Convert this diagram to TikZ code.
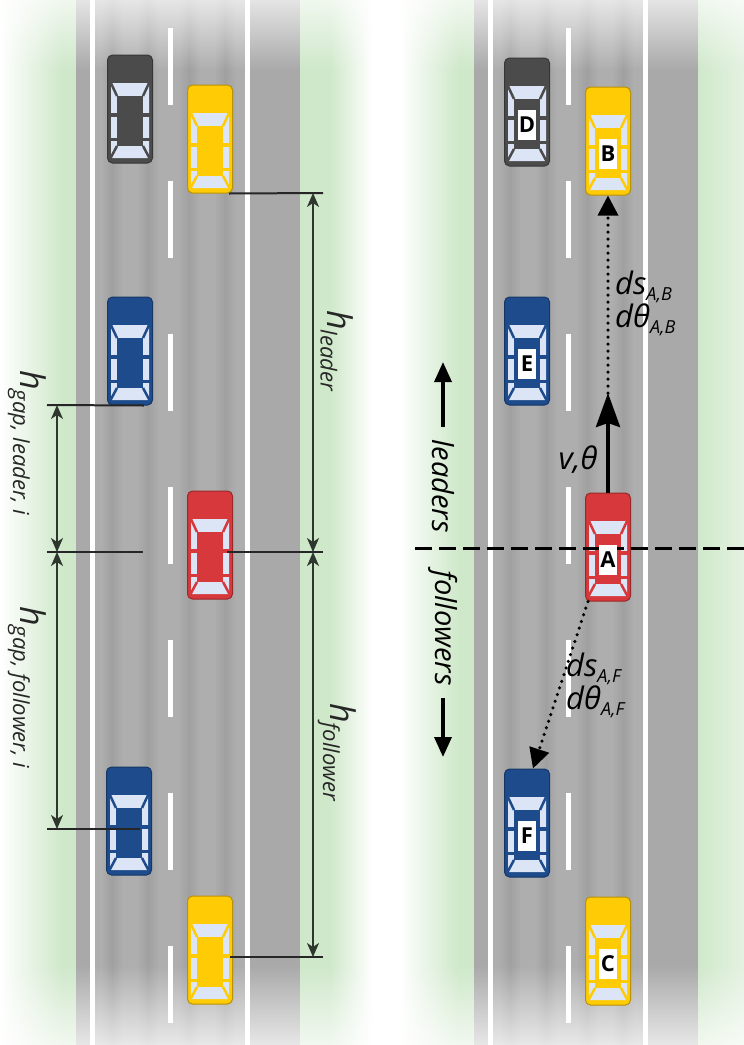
\documentclass[tikz,border=0pt]{standalone}
\usepackage{fontspec}
\setmainfont{Open Sans}
\usetikzlibrary{arrows.meta,fadings}

\definecolor{verge}{HTML}{CFE8CA}
\definecolor{shoulder}{HTML}{A9A9A9}
\definecolor{lane}{HTML}{AEAEAE}
\definecolor{track}{HTML}{A0A0A0}
\definecolor{glass}{HTML}{DCE5F5}
\definecolor{carred}{HTML}{D6383B}
\definecolor{carblue}{HTML}{1E4B8C}
\definecolor{caryellow}{HTML}{FFCB05}
\definecolor{cargray}{HTML}{4B4B4B}
\definecolor{dimgray}{HTML}{2E362E}

% two-lane road with shoulder, shifted by #1
\newcommand{\road}[1]{%
  \fill[shoulder] (#1+76,-10) rectangle (#1+300,1060);
  \fill[lane] (#1+95,-10) rectangle (#1+245,1060);
  \foreach \t in {101,137,178,214}
    \shade[left color=lane, right color=lane, middle color=track] (#1+\t,-10) rectangle (#1+\t+22,1060);
  \fill[white] (#1+90,-10) rectangle (#1+95,1060);
  \fill[white] (#1+245,-10) rectangle (#1+250,1060);
  \foreach \k in {0,...,6}
    \fill[white] (#1+167.5,28+153*\k) rectangle (#1+172.5,105+153*\k);
}

% car seen from above: name, x, y, body colour
\newcommand{\car}[4]{%
  \node[carbody, fill=#4, draw=#4!72!black] (#1) at (#2,#3) {};
  \begin{scope}[shift={(#1.center)}]
    \fill[glass, rounded corners=1pt] (-19,-26) rectangle (19,49);
    \fill[#4] (-13,-13) rectangle (13,37);
    \draw[#4, line width=2.5pt] (-13,-13) -- (-20,-28) (13,-13) -- (20,-28)
      (-13,37) -- (-20,50) (13,37) -- (20,50);
    \draw[#4, line width=4pt] (-20,6) -- (-13,6) (13,6) -- (20,6);
    \draw[#4, line width=3pt] (-20,30) -- (-13,30) (13,30) -- (20,30);
  \end{scope}}

\newcommand{\lowsub}[1]{\raisebox{-6pt}{\fontsize{18}{18}\selectfont #1}}
\newcommand{\hdist}[1]{{\fontsize{34}{34}\selectfont h}\raisebox{-7pt}{\fontsize{22}{22}\selectfont #1}}

\begin{document}
\begin{tikzpicture}[x=1pt, y=-1pt,
    carbody/.style={rounded corners=5pt, minimum width=45pt, minimum height=108pt, inner sep=0pt, line width=1pt},
    tag/.style={fill=white, minimum width=18pt, minimum height=30pt, inner sep=0pt, font=\fontsize{22}{22}\selectfont\bfseries},
    extline/.style={line width=2pt, black!85},
    dimline/.style={line width=1.7pt, dimgray, {Stealth[length=14pt,width=12pt,inset=4pt]}-{Stealth[length=14pt,width=12pt,inset=4pt]}},
    hlabel/.style={rotate=-90, anchor=west, inner sep=0pt, font=\itshape, black!85},
    dirlabel/.style={rotate=-90, inner sep=0pt, font=\fontsize{29}{29}\selectfont\itshape},
    bigarrow/.style={line width=3.5pt, -{Triangle[length=20pt,width=17pt]}},
    dotarrow/.style={line width=3.5pt, dash pattern=on 0pt off 7pt, line cap=round, -{Triangle[length=20pt,width=20pt]}},
    divider/.style={line width=3pt, dash pattern=on 17pt off 7pt},
    quantity/.style={font=\fontsize{31}{31}\selectfont\itshape, align=left, inner sep=0pt}]
  \useasboundingbox (0,0) rectangle (744,1045);
  \fill[white] (0,0) rectangle (744,1045);

  % grass verges
  \shade[left color=white, right color=verge] (0,-10) rectangle (62,1060);
  \fill[verge] (62,-10) rectangle (77,1060);
  \fill[verge] (299,-10) rectangle (330,1060);
  \shade[left color=verge, right color=white] (330,-10) rectangle (372,1060);
  \shade[left color=white, right color=verge] (400,-10) rectangle (458,1060);
  \fill[verge] (458,-10) rectangle (475,1060);
  \shade[left color=verge, right color=verge!55!white] (697,-10) rectangle (745,1060);

  % both roads
  \road{0}
  \road{398}

  % fade out at top and bottom
  \fill[white, path fading=south] (-5,-30) rectangle (750,70);
  \fill[white, path fading=north] (-5,965) rectangle (750,1075);

  % left road: gaps
  \car{G1}{130}{109}{cargray}
  \car{Y1}{210}{139}{caryellow}
  \car{B1}{130}{351}{carblue}
  \car{R1}{210}{545}{carred}
  \car{B2}{129}{821}{carblue}
  \car{Y2}{210}{950}{caryellow}

  % right road: neighbours of A
  \car{D}{527}{112}{cargray}
  \car{B}{608}{141}{caryellow}
  \car{E}{527}{351}{carblue}
  \car{A}{608}{547}{carred}
  \car{F}{527}{823}{carblue}
  \car{C}{608}{951}{caryellow}

  % dimension lines
  \coordinate (hl top) at (313,193);
  \coordinate (hl mid) at (313,552);
  \coordinate (hf bot) at (313,957);
  \coordinate (gl top) at (57,405);
  \coordinate (gl mid) at (57,552);
  \coordinate (gf bot) at (57,829);
  \coordinate (gap stop) at (143,552);

  \draw[extline] ([xshift=-4pt]Y1.south east) -- ([xshift=10pt]hl top);
  \draw[extline] ([xshift=17pt,yshift=-7pt]R1.center) -- ([xshift=10pt]hl mid);
  \draw[extline] ([xshift=20pt,yshift=-7pt]Y2.center) -- ([xshift=10pt]hf bot);
  \draw[extline] ([xshift=-10pt]gl top) -- ([xshift=-9pt]B1.south east);
  \draw[extline] ([xshift=-10pt]gl mid) -- (gap stop);
  \draw[extline] ([xshift=-10pt]gf bot) -- ([xshift=11pt,yshift=-8pt]B2.center);

  \draw[dimline] (hl top) -- (hl mid);
  \draw[dimline] (hl mid) -- (hf bot);
  \draw[dimline] (gl top) -- (gl mid);
  \draw[dimline] (gl mid) -- (gf bot);

  \node[hlabel] (hlead) at (337,310) {\hdist{leader}};
  \node[hlabel] (hfoll) at (337,703) {\hdist{follower}};
  \node[hlabel] (hgapl) at (27,370) {\hdist{gap, leader, i}};
  \node[hlabel] (hgapf) at (27,606) {\hdist{gap, follower, i}};

  % leaders / followers split
  \draw[divider] (415,548) -- (750,548);
  \node[dirlabel] (leaders) at (443,486) {leaders};
  \node[dirlabel] (followers) at (443,628) {followers};
  \coordinate (lead tip) at (443,362);
  \coordinate (foll tip) at (443,757);
  \draw[bigarrow] ([yshift=12pt]leaders.west) -- (lead tip);
  \draw[bigarrow] ([yshift=-12pt]followers.east) -- (foll tip);

  % car tags
  \foreach \c in {A,B,C,D,E,F}
    \node[tag] (\c-tag) at ([yshift=-13pt]\c.center) {\c};

  % motion of A and relations to B and F
  \coordinate (vtip) at (608,393);
  \draw[line width=4pt, -{Stealth[length=34pt,width=24pt,inset=4pt]}] (A.north) -- (vtip);
  \node[quantity] (vel) at (578,460) {v,θ};
  \draw[dotarrow] (vtip) -- (B.south);
  \draw[dotarrow] ([xshift=-20pt]A.south) -- ([xshift=6pt]F.north);
  \node[quantity, anchor=west] (dsAB) at (615,303) {ds\lowsub{A,B}\\dθ\lowsub{A,B}};
  \node[quantity, anchor=west] (dsAF) at (566,685) {ds\lowsub{A,F}\\dθ\lowsub{A,F}};
\end{tikzpicture}
\end{document}
